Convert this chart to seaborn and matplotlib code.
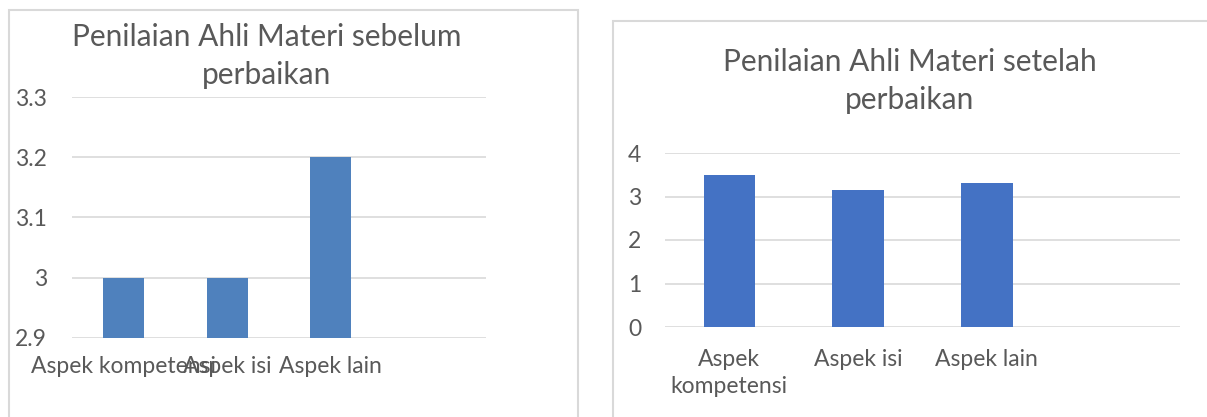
import matplotlib
matplotlib.use('Agg')
import matplotlib.pyplot as plt
import seaborn as sns
from matplotlib.patches import Rectangle

# --- Data ---
categories = ['Aspek kompetensi', 'Aspek isi', 'Aspek lain']
labels_after = ['Aspek\nkompetensi', 'Aspek isi', 'Aspek lain']
sebelum = [3.0, 3.0, 3.2]
setelah = [3.5, 3.16, 3.3]
ticks_sebelum = [2.9, 3.0, 3.1, 3.2, 3.3]
ticklabels_sebelum = ['2.9', '3', '3.1', '3.2', '3.3']
ticks_setelah = [0, 1, 2, 3, 4]

sns.set_theme(style='white')
plt.rcParams['font.family'] = ['Lato', 'DejaVu Sans']

text_col = '#595959'
grid_col = '#D9D9D9'
W, H = 1207, 417

fig = plt.figure(figsize=(W / 100, H / 100), dpi=100)
fig.patch.set_facecolor('white')


def frac(x0, y0, x1, y1):
    # pixel box (top-left origin) -> figure fraction [left, bottom, width, height]
    return [x0 / W, 1 - y1 / H, (x1 - x0) / W, (y1 - y0) / H]


# chart frames
for (x0, y0, x1, y1) in [(9, 10, 578, 430), (613, 21, 1220, 430)]:
    fig.patches.append(Rectangle((x0 / W, 1 - y1 / H), (x1 - x0) / W, (y1 - y0) / H,
                                 transform=fig.transFigure, fill=False,
                                 edgecolor=grid_col, linewidth=1.5, zorder=0))


def style_axes(ax):
    for s in ax.spines.values():
        s.set_visible(False)
    ax.grid(axis='y', color=grid_col, linewidth=1.2)
    ax.grid(axis='x', visible=False)
    ax.set_axisbelow(True)
    ax.set_xlim(-0.5, 3.5)
    ax.set_xlabel('')
    ax.set_ylabel('')
    ax.tick_params(axis='both', length=0, colors=text_col, labelsize=16.5)


# --- Left chart: sebelum perbaikan ---
ax1 = fig.add_axes(frac(72, 97, 486, 338))
sns.barplot(x=categories, y=sebelum, color='#4F81BD', width=0.4,
            saturation=1, linewidth=0, ax=ax1)
style_axes(ax1)
ax1.set_ylim(2.9, 3.3)
ax1.set_yticks(ticks_sebelum)
ax1.set_yticklabels(ticklabels_sebelum)
ax1.tick_params(axis='y', pad=18)
ax1.tick_params(axis='x', pad=13)

fig.text(267 / W, 1 - 56 / H, 'Penilaian Ahli Materi sebelum\nperbaikan',
         ha='center', va='center', fontsize=21.5, color=text_col, linespacing=1.4)

# --- Right chart: setelah perbaikan ---
ax2 = fig.add_axes(frac(665, 153, 1180, 327))
sns.barplot(x=labels_after, y=setelah, color='#4472C4', width=0.4,
            saturation=1, linewidth=0, ax=ax2)
style_axes(ax2)
ax2.set_ylim(0, 4)
ax2.set_yticks(ticks_setelah)
ax2.tick_params(axis='y', pad=17)
ax2.tick_params(axis='x', pad=16)
for t in ax2.get_xticklabels():
    t.set_linespacing(1.35)

fig.text(910 / W, 1 - 81 / H, 'Penilaian Ahli Materi setelah\nperbaikan',
         ha='center', va='center', fontsize=21.5, color=text_col, linespacing=1.4)

fig.savefig('out.png', dpi=100, facecolor='white')
